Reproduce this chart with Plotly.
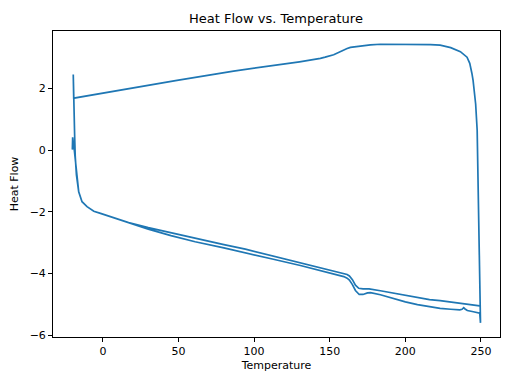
import plotly.graph_objects as go

# First heating run (-20 -> 250 C)
heat1_T = [-20.2, -20.0, -19.6, -18.9, -18.2, -17.5, -16.0, -13.8, -10.5, -6.0, -1.6, 5.0,
           10.0, 17.0, 30.0, 45.0, 61.0, 80.0, 94.0, 112.0, 130.6, 145.0, 155.0, 159.3,
           161.5, 163.0, 165.0, 167.0, 169.5, 172.0, 175.0, 177.0, 183.5, 192.0, 200.0,
           208.0, 216.0, 223.0, 230.0, 236.0, 237.5, 238.6, 239.5, 241.0, 245.0, 249.2, 249.7]
heat1_HF = [0.02, 0.42, 0.25, 0.0, -0.35, -0.8, -1.35, -1.67, -1.83, -1.98, -2.05, -2.16,
            -2.25, -2.37, -2.56, -2.77, -2.97, -3.17, -3.32, -3.53, -3.74, -3.92, -4.04, -4.10,
            -4.15, -4.21, -4.36, -4.55, -4.68, -4.68, -4.63, -4.62, -4.69, -4.81, -4.92,
            -5.01, -5.08, -5.13, -5.16, -5.18, -5.16, -5.11, -5.15, -5.20, -5.24, -5.29, -5.60]

# Cooling run (250 -> -20 C)
cool_T = [249.6, 249.3, 249.0, 248.6, 248.0, 247.5, 246.5, 245.5, 244.8, 244.0, 242.6, 240.8,
          236.4, 230.0, 223.0, 216.6, 200.0, 183.5, 176.9, 170.0, 163.7, 161.5, 157.0, 152.6,
          147.0, 143.8, 130.0, 117.4, 86.4, 49.0, 20.0, -1.6, -19.3]
cool_HF = [-5.30, -4.50, -3.50, -2.60, -1.00, 0.65, 1.50, 2.00, 2.27, 2.50, 2.82, 3.02,
           3.20, 3.33, 3.41, 3.43, 3.44, 3.44, 3.42, 3.38, 3.34, 3.30, 3.20, 3.10,
           3.02, 2.98, 2.87, 2.78, 2.57, 2.27, 2.03, 1.83, 1.69]

# Second heating run (-20 -> 250 C)
heat2_T = [-19.6, -19.4, -19.0, -18.7, -18.3, -17.5, -16.0, -13.8, -10.5, -6.0, -1.6, 5.0,
           10.0, 17.0, 30.0, 45.0, 61.2, 80.0, 94.2, 112.0, 130.6, 145.0, 155.0, 159.3,
           161.5, 163.0, 165.0, 167.0, 169.2, 172.0, 176.0, 183.5, 192.0, 200.0, 208.0,
           216.0, 223.0, 230.0, 236.0, 242.0, 249.2]
heat2_HF = [2.46, 1.70, 1.00, 0.50, -0.20, -0.80, -1.35, -1.67, -1.83, -1.98, -2.05, -2.15,
            -2.24, -2.35, -2.51, -2.68, -2.86, -3.06, -3.21, -3.43, -3.65, -3.82, -3.94, -3.99,
            -4.03, -4.08, -4.20, -4.38, -4.48, -4.50, -4.50, -4.56, -4.64, -4.72, -4.79,
            -4.85, -4.88, -4.92, -4.96, -5.00, -5.05]

temperature = heat1_T + cool_T + heat2_T
heat_flow = heat1_HF + cool_HF + heat2_HF

x_ticks = [0, 50, 100, 150, 200, 250]
y_ticks = [-6, -4, -2, 0, 2]

fig = go.Figure()
fig.add_trace(go.Scatter(x=temperature, y=heat_flow, mode="lines",
                         line=dict(color="#1f77b4", width=1.7), showlegend=False))

font = "DejaVu Sans, sans-serif"
axis_common = dict(showline=True, linecolor="black", linewidth=0.9, mirror=True,
                   ticks="outside", ticklen=4, tickwidth=0.9, tickcolor="black",
                   showgrid=False, zeroline=False, automargin=False,
                   tickfont=dict(family=font, size=11, color="black"))

# The page body has an 8px margin, so the figure is sized/offset to compensate.
W, H = 504, 376
fig.update_layout(
    width=W, height=H,
    margin=dict(l=45, r=12, t=23, b=47, autoexpand=False),
    paper_bgcolor="white", plot_bgcolor="white",
    title=dict(text="Heat Flow vs. Temperature", x=268 / W, xref="container", xanchor="center",
               y=1 - 10 / H, yref="container", yanchor="middle", automargin=False,
               font=dict(family=font, size=13, color="black")),
    xaxis=dict(range=[-33.0, 262.6], tickvals=x_ticks,
               title=dict(text="Temperature", font=dict(family=font, size=11, color="black"), standoff=4),
               **axis_common),
    yaxis=dict(range=[-6.06, 3.87], tickvals=y_ticks,
               ticktext=["\u22126", "\u22124", "\u22122", "0", "2"],
               title=dict(text="Heat Flow", font=dict(family=font, size=11, color="black"), standoff=8),
               **axis_common),
)

fig.write_html("out.html")
